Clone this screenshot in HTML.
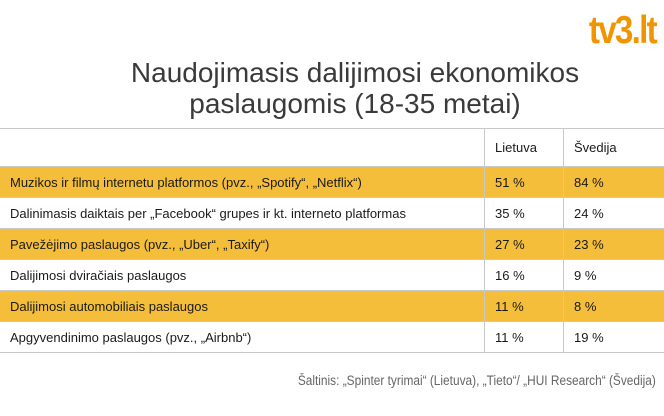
<!DOCTYPE html>
<html><head><meta charset="utf-8"><style>
body{margin:0;width:664px;height:416px;background:#fff;position:relative;overflow:hidden;font-family:"Liberation Sans",sans-serif;color:#1a1a1a}
.logo{position:absolute;right:8px;top:9px;font-size:39px;font-weight:bold;color:#f29400;letter-spacing:-2px;transform:scaleX(0.85);transform-origin:right}
.title{position:absolute;left:50px;width:610px;top:57px;text-align:center;font-size:28px;line-height:31px;color:#3a3a3a;font-weight:300}
table{position:absolute;top:128px;left:0;width:664px;border-collapse:collapse;font-size:13px}
td{border-top:1px solid #c8c8c8;padding:0 0 0 10px;height:30px}
tr.h td{height:37px}
td.a{border-left:1px solid #c8c8c8;width:68px;padding-left:10px}
td.b{border-left:1px solid #c8c8c8;width:90px;padding-left:10px}
tr.y td{background:#f5be3a}
tr:last-child td{border-bottom:1px solid #c8c8c8}
.src{position:absolute;right:8px;top:373px;font-size:13.5px;color:#666;transform:scaleX(0.88);transform-origin:right}
</style></head><body>
<div class="logo">tv3.lt</div>
<div class="title">Naudojimasis dalijimosi ekonomikos<br>paslaugomis (18-35 metai)</div>
<table>
<tr class="h"><td></td><td class="a">Lietuva</td><td class="b">Švedija</td></tr>
<tr class="y"><td>Muzikos ir filmų internetu platformos (pvz., „Spotify“, „Netflix“)</td><td class="a">51 %</td><td class="b">84 %</td></tr>
<tr><td>Dalinimasis daiktais per „Facebook“ grupes ir kt. interneto platformas</td><td class="a">35 %</td><td class="b">24 %</td></tr>
<tr class="y"><td>Pavežėjimo paslaugos (pvz., „Uber“, „Taxify“)</td><td class="a">27 %</td><td class="b">23 %</td></tr>
<tr><td>Dalijimosi dviračiais paslaugos</td><td class="a">16 %</td><td class="b">9 %</td></tr>
<tr class="y"><td>Dalijimosi automobiliais paslaugos</td><td class="a">11 %</td><td class="b">8 %</td></tr>
<tr><td>Apgyvendinimo paslaugos (pvz., „Airbnb“)</td><td class="a">11 %</td><td class="b">19 %</td></tr>
</table>
<div class="src">Šaltinis: „Spinter tyrimai“ (Lietuva), „Tieto“/ „HUI Research“ (Švedija)</div>
</body></html>
